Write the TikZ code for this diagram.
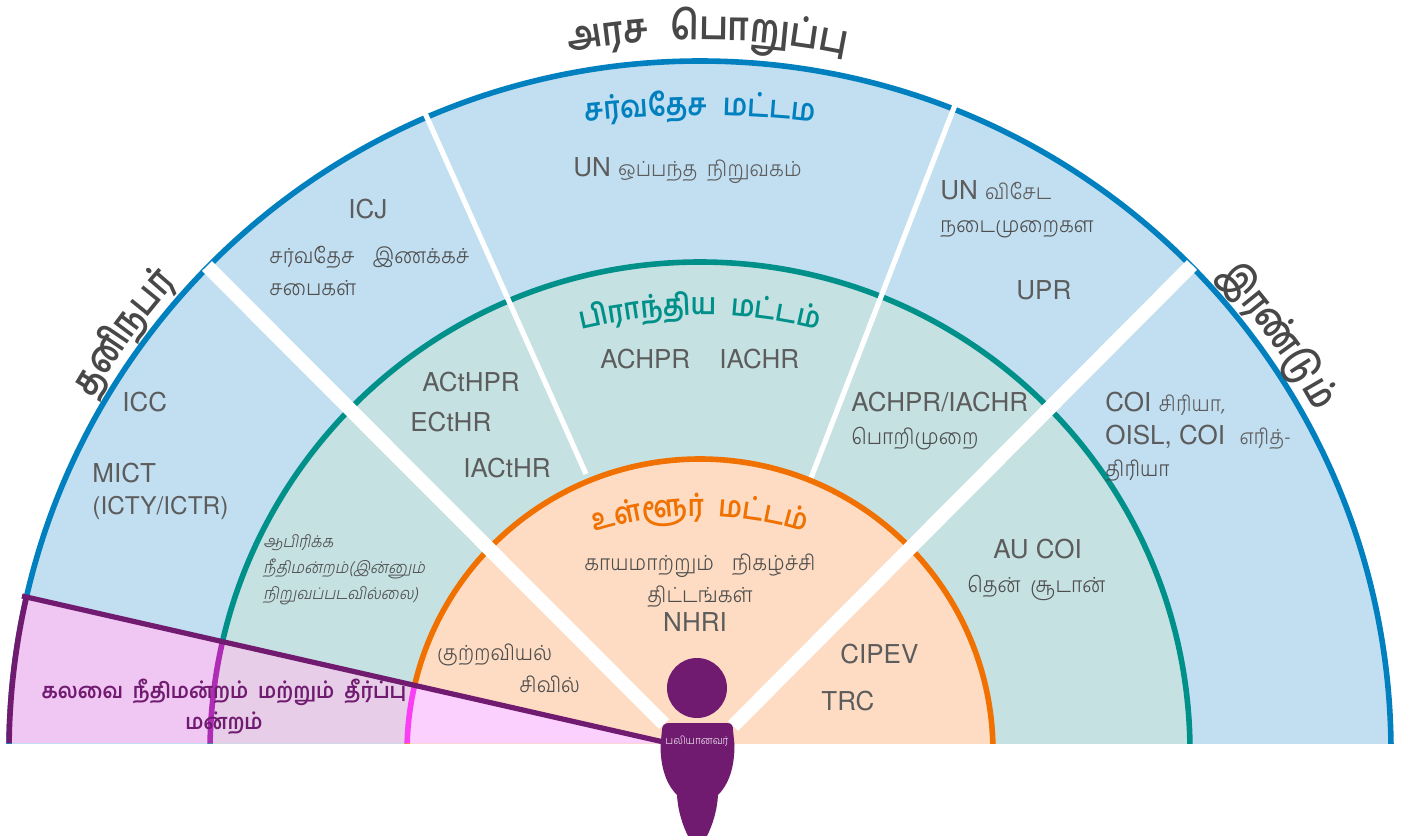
\documentclass[tikz,border=0pt]{standalone}
\usepackage{fontspec}
\setmainfont{TeX Gyre Heros}
\newfontfamily\tam[Script=Tamil,FakeStretch=0.93]{Hind Madurai Light}
\newfontfamily\tamtitle[Script=Tamil,FakeStretch=0.86]{Hind Madurai SemiBold}
\newfontfamily\tamside[Script=Tamil,FakeStretch=0.78]{Hind Madurai SemiBold}
\newfontfamily\tamb[Script=Tamil,FakeStretch=0.93]{Hind Madurai SemiBold}
\newfontfamily\tamslant[Script=Tamil,FakeSlant=0.2,FakeStretch=0.93]{Hind Madurai Light}
\newcommand\tm[1]{{\fontsize{10.7}{13}\selectfont\tam #1}}
\definecolor{blueline}{HTML}{0080BE}
\definecolor{bluefill}{HTML}{C2DFF1}
\definecolor{tealline}{HTML}{00908A}
\definecolor{tealfill}{HTML}{C6E1E2}
\definecolor{orangeline}{HTML}{F07000}
\definecolor{orangefill}{HTML}{FDDCC3}
\definecolor{victim}{HTML}{701B70}
\definecolor{pinkout}{HTML}{F0C6F2}
\definecolor{pinkmid}{HTML}{E8CDE8}
\definecolor{pinkin}{HTML}{FBD0FF}
\definecolor{pinkmidline}{HTML}{AF2DB5}
\definecolor{pinkinline}{HTML}{F93EF5}
\definecolor{inktext}{HTML}{5C5C5C}
\definecolor{titleink}{HTML}{484848}
\newlength\clusterw
\newlength\bendtotal
\newlength\benddone
% prefix, centre y, radius, middle angle, font, colour, clusters
\newcommand\bendtext[7]{%
  \global\bendtotal=0pt
  \global\benddone=0pt
  \foreach \g in {#7}{\settowidth\clusterw{\pgfinterruptpicture#5\g\endpgfinterruptpicture}\global\advance\bendtotal by \clusterw}
  \foreach \g [count=\i] in {#7}{
    \settowidth\clusterw{\pgfinterruptpicture#5\g\endpgfinterruptpicture}
    \pgfmathsetmacro\ang{#4+(\bendtotal/2-\benddone-\clusterw/2)/(#3*0.5)*57.2958}
    \node[bendglyph,text=#6,rotate=\ang-90,name=#1\i] at ({700+#3*cos(\ang)},{#2-#3*sin(\ang)}) {#5\g};
    \global\advance\benddone by \clusterw
  }
}
\begin{document}
\begin{tikzpicture}[x=0.5pt,y=-0.5pt,
  bendglyph/.style={inner sep=0pt,anchor=base},
  lbl/.style={inner sep=0pt,text=inktext,font=\fontsize{13}{16}\selectfont,anchor=base west},
  tamlbl/.style={lbl,text=inktext!85!black,font=\fontsize{10.7}{13}\selectfont\tam},
  slantlbl/.style={lbl,text=inktext!85!black,font=\fontsize{8.3}{10}\selectfont\tamslant},
  courtlbl/.style={lbl,anchor=base,text=victim,font=\fontsize{10.7}{13}\selectfont\tamb},
  ring/.style={line width=2.8pt},
  bigspoke/.style={draw=white,line width=7pt},
  thinspoke/.style={draw=white,line width=2.6pt}]
\useasboundingbox (0,0) rectangle (1405,836);
\coordinate (spokeleft) at (207,266);
\coordinate (spokeright) at (1192,265);
\coordinate (spokeleftin) at (664,724);
\coordinate (spokerightin) at (733,726);
\coordinate (thinleft) at (425,113);
\coordinate (thinleftin) at (586,474);
\coordinate (thinright) at (955,105);
\coordinate (thinrightin) at (811,478);
\coordinate (courtout) at (22,596);
\coordinate (courtin) at (668,743);
\begin{scope}
\clip (0,0) rectangle (1405,743);
\draw[ring,draw=blueline,fill=bluefill] (700,752) circle [radius=691];
\draw[ring,draw=tealline,fill=tealfill] (700,752) circle [radius=490];
\draw[thinspoke] (thinleft) -- (thinleftin);
\draw[thinspoke] (thinright) -- (thinrightin);
\draw[ring,draw=orangeline,fill=orangefill] (700,752) circle [radius=293];
\draw[bigspoke] (spokeleft) -- (spokeleftin);
\draw[bigspoke] (spokeright) -- (spokerightin);
\begin{scope}
\clip (0,743) -- (0,591) -- (courtout) -- (courtin) -- cycle;
\draw[ring,draw=victim,fill=pinkout] (700,752) circle [radius=691];
\draw[ring,draw=pinkmidline,fill=pinkmid] (700,752) circle [radius=490];
\draw[ring,draw=pinkinline,fill=pinkin] (700,752) circle [radius=293];
\end{scope}
\end{scope}
\draw[line width=2.6pt,draw=victim] (courtout) -- (courtin);
% person
\fill[victim] (697,688) circle [radius=30];
\fill[victim] (669,723) -- (727,723) .. controls (732,723) and (733,726) .. (733,730) -- (734.5,745)
  .. controls (734.5,765) and (730,783) .. (718,795) .. controls (717,812) and (712,826) .. (707,836)
  -- (688,836) .. controls (683,826) and (678,812) .. (677,795)
  .. controls (665,783) and (660.5,765) .. (660.5,745) -- (662,730)
  .. controls (662,726) and (664,723) .. (669,723) -- cycle;
\node (victimtext) at (697,741) [inner sep=0pt,text=white!90!victim,font=\fontsize{5.5}{6}\selectfont\tam] {பலியானவர்};
% titles on the arcs
\bendtext{state}{752}{712}{89.4}{\fontsize{20}{20}\selectfont\tamtitle}{titleink}{அ,ர,ச,\hspace{11pt},பொ,று,ப்,பு}
\bendtext{single}{752}{703}{144}{\fontsize{20}{20}\selectfont\tamside}{titleink}{த,னி,ந,ப,ர்}
\bendtext{both}{752}{703}{35.8}{\fontsize{20}{20}\selectfont\tamside}{titleink}{இ,ர,ண்,டு,ம்}
\bendtext{intl}{1110}{995}{90}{\fontsize{15.5}{16}\selectfont\tamtitle}{blueline}{ச,ர்,வ,தே,ச,\hspace{8pt},ம,ட்,ட,ம}
\bendtext{regl}{804}{489}{90}{\fontsize{15}{16}\selectfont\tamtitle}{tealline}{பி,ரா,ந்,தி,ய,\hspace{7pt},ம,ட்,ட,ம்}
\bendtext{locl}{876}{360}{90}{\fontsize{15}{16}\selectfont\tamtitle}{orangeline}{உ,ள்,ளூ,ர்,\hspace{7pt},ம,ட்,ட,ம்}
% outer ring
\node (treaty) at (573,176) [lbl] {UN \tm{ஒப்பந்த\ \ நிறுவகம்}};
\node (icj) at (348,218) [lbl] {ICJ};
\node (concil) at (269,263) [tamlbl] {சர்வதேச\hspace{9pt}இணக்கச்};
\node (concilb) at (269,295) [tamlbl] {சபைகள்};
\node (special) at (940,199) [lbl] {UN \tm{விசேட}};
\node (specialb) at (940,232) [tamlbl] {நடைமுறைகள};
\node (upr) at (1016,299) [lbl] {UPR};
\node (icc) at (122,411) [lbl] {ICC};
\node (mict) at (92,482) [lbl] {MICT};
\node (ictr) at (92,514) [lbl,font=\fontsize{12.2}{16}\selectfont] {(ICTY/ICTR)};
\node (coia) at (1105,411) [lbl] {COI \tm{சிரியா,}};
\node (coib) at (1105,444) [lbl] {OISL, COI\ \ \tm{எரித்-}};
\node (coic) at (1105,476) [tamlbl] {திரியா};
% middle ring
\node (acthpr) at (422,391) [lbl] {ACtHPR};
\node (ecthr) at (410,431) [lbl] {ECtHR};
\node (iacthr) at (463,477) [lbl] {IACtHR};
\node (achpr) at (600,368) [lbl] {ACHPR};
\node (iachr) at (719,368) [lbl] {IACHR};
\node (both) at (851,411) [lbl] {ACHPR/IACHR};
\node (mech) at (851,444) [tamlbl] {பொறிமுறை};
\node (aucoi) at (993,558) [lbl] {AU COI};
\node (sudan) at (967,592) [tamlbl] {தென்\ \ சூடான்};
\node (afra) at (263,547) [slantlbl] {ஆபிரிக்க};
\node (afrb) at (263,573) [slantlbl] {நீதிமன்றம்(இன்னும்};
\node (afrc) at (263,599) [slantlbl] {நிறுவப்படவில்லை)};
% inner ring
\node (repar) at (700,570) [tamlbl,anchor=base] {காயமாற்றும்\hspace{9pt}நிகழ்ச்சி};
\node (prog) at (700,602) [tamlbl,anchor=base] {திட்டங்கள்};
\node (nhri) at (695,631) [lbl,anchor=base] {NHRI};
\node (cipev) at (840,663) [lbl] {CIPEV};
\node (trc) at (821,710) [lbl] {TRC};
\node (crim) at (437,660) [tamlbl] {குற்றவியல்};
\node (civil) at (519,692) [tamlbl] {சிவில்};
% court wedge
\node (courta) at (224,698) [courtlbl] {கலவை\ \ நீதிமன்றம்\ \ மற்றும்\ \ தீர்ப்பு};
\node (courtb) at (224,729) [courtlbl] {மன்றம்};
\end{tikzpicture}
\end{document}
